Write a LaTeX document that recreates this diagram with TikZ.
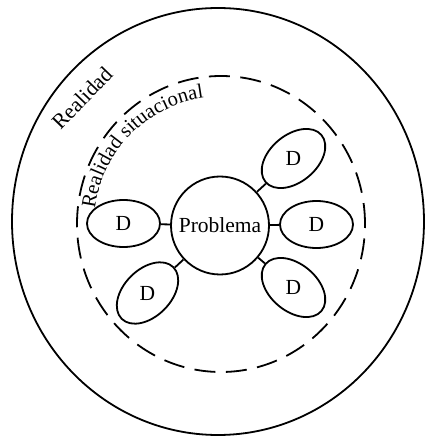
\documentclass[tikz,border=0pt]{standalone}
\usepackage{fontspec}
\setmainfont{Liberation Serif}
\usetikzlibrary{shapes.geometric,decorations.text,calc}
\begin{document}
\begin{tikzpicture}[x=1pt,y=1pt,line width=1.8pt,
  txt/.style={font=\fontsize{21.5}{23}\selectfont},
  dnode/.style={draw, ellipse, minimum width=73pt, minimum height=47pt, inner sep=0pt, txt},
  link/.style={line width=1.8pt}]
\useasboundingbox (0,0) rectangle (425,437);
% outer reality
\draw (218,215.5) ellipse [x radius=206, y radius=213.5];
% situational reality (dashed)
\draw[dash pattern=on 21pt off 10.5pt] (221,213) ellipse [x radius=144, y radius=148];
% problem
\node[draw, circle, minimum size=98pt, inner sep=0pt, txt] (p) at (220,211.5) {Problema};
% D nodes
\node[dnode] (dl) at (123.5,213.5) {D};
\node[dnode] (dr) at (316.5,212.5) {D};
\node[dnode, rotate=40] (dur) at (293.5,278.5) {\rotatebox{-40}{D}};
\node[dnode, rotate=45] (dll) at (147.5,144) {\rotatebox{-45}{D}};
\node[dnode, rotate=-40] (dlr) at (293.5,149.5) {\rotatebox{40}{D}};
% connectors
\draw[link] (p) -- (dl);
\draw[link] (p) -- (dr);
\draw[link] (p) -- (dur);
\draw[link] (p) -- (dll);
\draw[link] (p) -- (dlr);
% labels
\node[txt, rotate=46] (real) at (82,339) {Realidad};
\path[decorate, decoration={text along path, text={|\fontsize{20.5}{22}\selectfont|Realidad situacional}, text align=left}]
  ($(221,213)+(173:127)$) arc[start angle=173, end angle=90, radius=127];
\end{tikzpicture}
\end{document}
